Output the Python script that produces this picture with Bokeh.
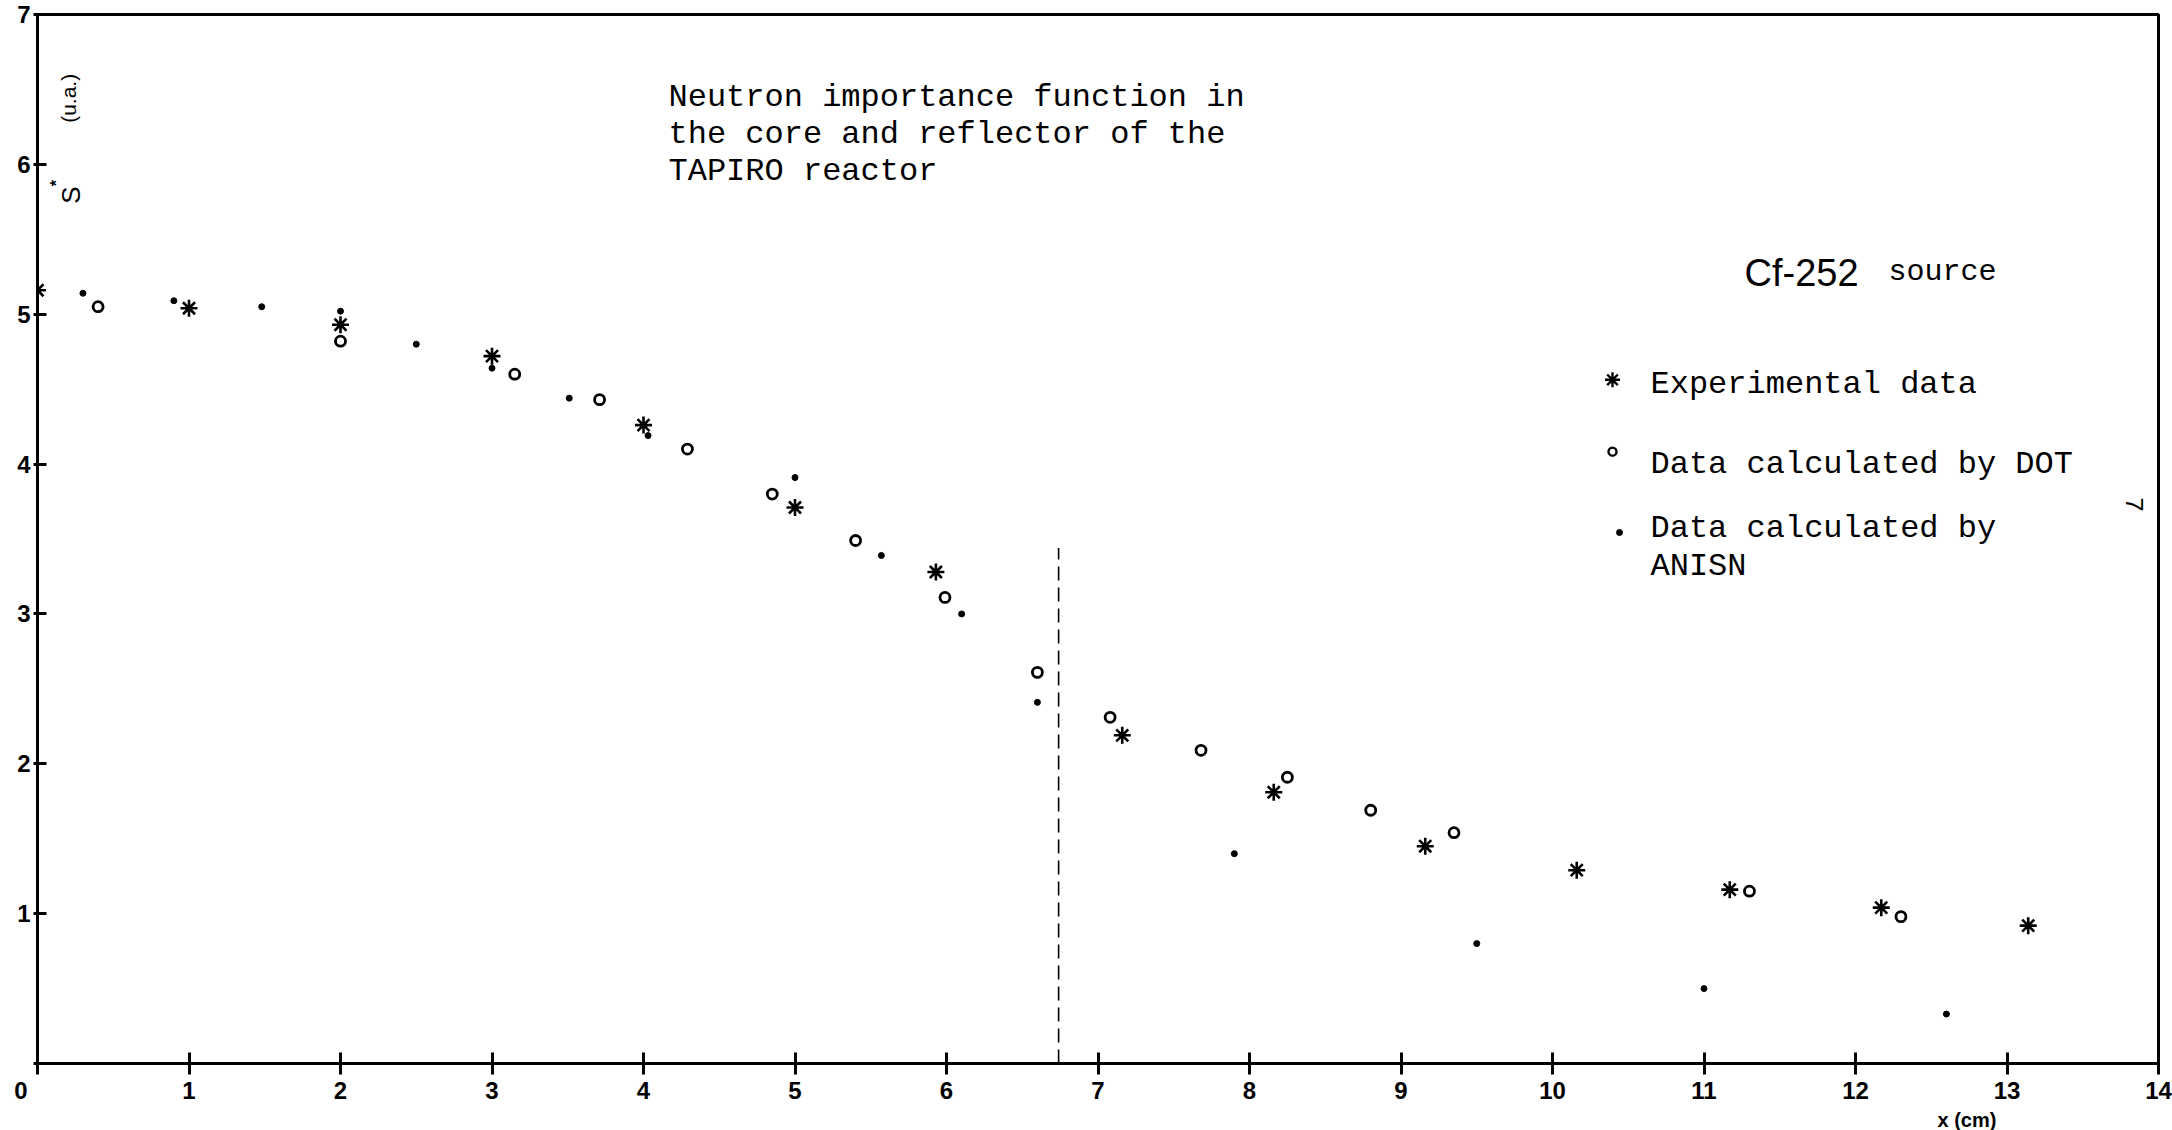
import math
from bokeh.plotting import figure
from bokeh.models import Range1d, Label, FixedTicker, Title
from bokeh.embed import file_html
from bokeh.resources import INLINE

# ---------------- data ----------------
exp_x = [0.0, 1.0, 2.0, 3.0, 4.0, 5.0, 5.93, 7.16, 8.16, 9.16, 10.16, 11.17, 12.17, 13.14]
exp_y = [5.16, 5.04, 4.93, 4.72, 4.26, 3.71, 3.28, 2.19, 1.81, 1.45, 1.29, 1.16, 1.04, 0.92]

dot_x = [0.40, 2.0, 3.15, 3.71, 4.29, 4.85, 5.40, 5.99, 6.60, 7.08, 7.68, 8.25, 8.80, 9.35, 11.30, 12.30]
dot_y = [5.05, 4.82, 4.60, 4.43, 4.10, 3.80, 3.49, 3.11, 2.61, 2.31, 2.09, 1.91, 1.69, 1.54, 1.15, 0.98]

anisn_x = [0.30, 0.90, 1.48, 2.0, 2.50, 3.0, 3.51, 4.03, 5.0, 5.57, 6.10, 6.60, 7.90, 9.50, 11.0, 12.6]
anisn_y = [5.14, 5.09, 5.05, 5.02, 4.80, 4.64, 4.44, 4.19, 3.91, 3.39, 3.00, 2.41, 1.40, 0.80, 0.50, 0.33]

boundary_x = 6.74      # core / reflector interface
boundary_top = 3.44

x_ticks = list(range(0, 15))
y_ticks = list(range(0, 8))

title_lines = ["Neutron importance function in",
               "the core and reflector of the",
               "TAPIRO reactor"]
legend_labels = ["Experimental data", "Data calculated by DOT", "Data calculated by", "ANISN"]

# ---------------- layout helpers (page pixels -> data) ----------------
W, H = 2172, 1130
FX0, FX1 = 37, 2158   # frame left/right on page
FY0, FY1 = 1065, 14   # frame bottom/top on page
def X(px):
    return (px - FX0) / (FX1 - FX0) * 14.0
def Y(py):
    return (FY0 - py) / (FY0 - FY1) * 7.0

p = figure(width=W, height=H, output_backend="svg", toolbar_location=None,
           x_range=Range1d(0, 14), y_range=Range1d(0, 7),
           min_border_left=FX0, min_border_right=W - FX1,
           min_border_top=FY1, min_border_bottom=H - FY0)
p.background_fill_color = "white"
p.border_fill_color = "white"
p.grid.visible = False
p.outline_line_color = "black"
p.outline_line_width = 3

MONO = "Liberation Mono"
SANS = "Liberation Sans"
NBSP = "\u00a0"

xa = p.xaxis[0]
xa.ticker = FixedTicker(ticks=x_ticks)
# origin "0" sits left of the corner in the reference
xa.major_label_overrides = {0: "0" + NBSP * 5}
xa.axis_line_width = 3
xa.major_tick_line_width = 3
xa.major_tick_in = 11
xa.major_tick_out = 11
xa.minor_tick_line_color = None
xa.major_label_standoff = 2
xa.major_label_text_font = SANS
xa.major_label_text_font_style = "bold"
xa.major_label_text_font_size = "24px"
xa.major_label_text_color = "black"

ya = p.yaxis[0]
ya.ticker = FixedTicker(ticks=y_ticks)
ya.major_label_overrides = {0: ""}
ya.axis_line_width = 3
ya.major_tick_line_width = 3
ya.major_tick_in = 9
ya.major_tick_out = 4
ya.minor_tick_line_color = None
ya.major_label_standoff = 3
ya.major_label_text_font = SANS
ya.major_label_text_font_style = "bold"
ya.major_label_text_font_size = "24px"
ya.major_label_text_color = "black"

# x axis title, placed under tick 13 like the reference
xt = Title(text="x (cm)", align="left", offset=1967 - FX0 - 30, standoff=0,
           text_font=SANS, text_font_style="bold", text_font_size="20px",
           text_color="black")
p.add_layout(xt, "below")

# dashed interface line
p.line([boundary_x, boundary_x], [0, boundary_top], line_color="black",
       line_width=1.6, line_dash="14 7")

# data marks
p.scatter(exp_x, exp_y, marker="asterisk", size=17, line_color="black", line_width=2.6)
p.scatter(dot_x, dot_y, marker="circle", size=10, fill_color="white",
          line_color="black", line_width=2.8)
p.scatter(anisn_x, anisn_y, marker="circle", size=6, fill_color="black", line_color="black")

# legend markers
p.scatter([X(1612)], [Y(380)], marker="asterisk", size=15, line_color="black", line_width=2.4)
p.scatter([X(1612)], [Y(452)], marker="circle", size=8, fill_color="white",
          line_color="black", line_width=2.4)
p.scatter([X(1619)], [Y(533)], marker="circle", size=6, fill_color="black", line_color="black")

def lab(x, y, text, font, size, style="normal", align="left", baseline="alphabetic", angle=0.0):
    p.add_layout(Label(x=x, y=y, text=text, text_font=font, text_font_size=size,
                       text_font_style=style, text_align=align, text_baseline=baseline,
                       angle=angle, text_color="black"))

# title
for t, by in zip(title_lines, [97, 134, 171]):
    lab(X(668), Y(by), t, MONO, "32px")

# legend texts
lab(X(1744), Y(273), "Cf-252", SANS, "38px")
lab(X(1888), Y(272), "source", MONO, "30px")
for t, by in zip(legend_labels, [385, 465, 529, 567]):
    lab(X(1650), Y(by), t, MONO, "32px")

# y label (rotated)
lab(X(70), Y(195), "S", SANS, "26px", align="center", baseline="middle", angle=math.pi / 2)
lab(X(56), Y(183), "*", SANS, "16px", style="bold", align="center", baseline="middle", angle=math.pi / 2)
lab(X(68), Y(98), "(u.a.)", SANS, "21px", align="center", baseline="middle", angle=math.pi / 2)

# page number mark on the right
lab(X(2134), Y(505), "7", MONO, "26px", align="center", baseline="middle", angle=-math.pi / 2)

open("out.html", "w").write(file_html(p, INLINE))
